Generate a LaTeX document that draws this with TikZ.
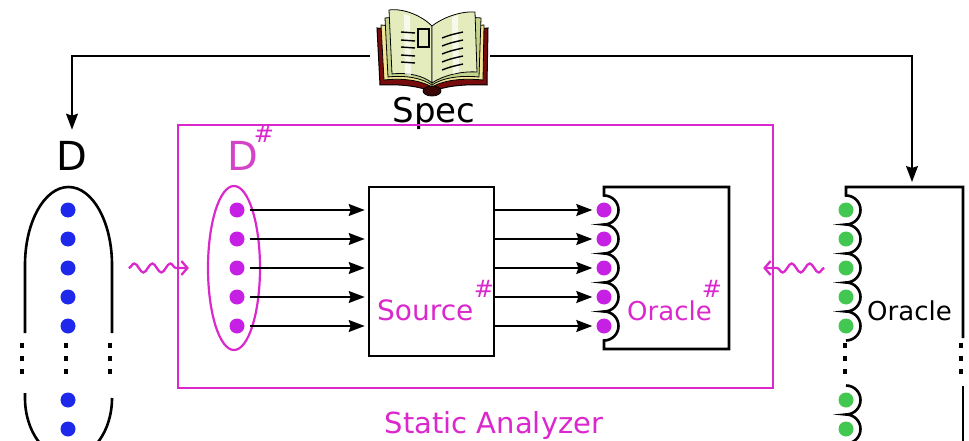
\documentclass[tikz,border=0pt]{standalone}
\usepackage{fontspec}
\setmainfont{DejaVu Sans}
\usetikzlibrary{arrows.meta, decorations.pathmorphing, shapes.geometric}
\definecolor{anapink}{RGB}{218,40,204}
\definecolor{dlabpink}{RGB}{212,68,200}
\definecolor{dotpurple}{RGB}{198,32,228}
\definecolor{dotblue}{RGB}{30,40,235}
\definecolor{dotgreen}{RGB}{66,200,80}
\definecolor{bookred}{RGB}{120,12,12}
\definecolor{bookyellow}{RGB}{240,228,150}
\definecolor{pagegreen}{RGB}{228,236,190}
\definecolor{pagedark}{RGB}{196,212,140}

\begin{document}
\begin{tikzpicture}[x=1pt, y=-1pt,
  flow/.style={-{Stealth[length=16pt,width=12pt,inset=2pt]}, line width=1.4pt},
  frame/.style={line width=2.6pt},
  dot/.style={circle, fill=#1, inner sep=0, minimum size=15pt},
  squig/.style={anapink, line width=2.3pt, decorate,
    decoration={snake, amplitude=4.5pt, segment length=18pt, post length=6pt},
    -{Straight Barb[length=6pt,width=14pt]}},
  gap/.style={line width=4.5pt, dash pattern=on 4.5pt off 8.5pt}
]
\useasboundingbox (0,0) rectangle (969,441);

% the spec book
\draw[fill=bookred, line width=1pt] (377,28) -- (380,85) .. controls (400,84) and (420,86) .. (432,92)
  .. controls (444,86) and (464,84) .. (487,85) -- (488,28) -- (432,34) -- cycle;
\draw[fill=bookyellow, line width=0.8pt] (381,25) -- (384,80) .. controls (402,78) and (420,80) .. (432,87)
  .. controls (444,80) and (462,78) .. (483,80) -- (484,25) -- (432,30) -- cycle;
\draw[fill=pagedark, line width=0.8pt] (385,18) -- (388,77) .. controls (405,75) and (422,78) .. (432,85)
  .. controls (442,78) and (460,75) .. (479,77) -- (481,18) .. controls (462,16) and (444,20) .. (432,28)
  .. controls (420,20) and (402,16) .. (385,18) -- cycle;
\draw[fill=pagegreen, line width=0.8pt] (389,10) -- (392,74) .. controls (408,72) and (424,76) .. (432,83)
  -- (432,26) .. controls (422,16) and (404,8) .. (389,10) -- cycle;
\draw[fill=pagegreen, line width=0.8pt] (475,12) -- (477,72) .. controls (460,71) and (442,76) .. (432,83)
  -- (432,26) .. controls (442,18) and (460,11) .. (475,12) -- cycle;
\fill[white, opacity=0.7] (404,14) -- (410,16) -- (411,76) -- (405,74) -- cycle;
\fill[white, opacity=0.7] (452,17) -- (458,15) -- (459,72) -- (453,74) -- cycle;
\foreach \y in {32,40,47,55,62}
  \draw[line width=1.4pt] (401,\y) -- (415,\y+1);
\draw[line width=1.1pt] (418,29) rectangle (429,47);
\foreach \y in {35,43,51,59,67}
  \draw[line width=1.4pt] (442,\y+3) .. controls (450,\y) .. (463,\y-3);
\draw[fill=bookred!50!black, line width=0.8pt] (432,91) ellipse[x radius=9pt, y radius=5pt];
\node[minimum width=120, minimum height=90] (book) at (430,56) {};
\node[anchor=base, font=\fontsize{34}{40}\selectfont] (spec) at (434,123) {Spec};

% analyzer frame
\node[draw=anapink, line width=2.2pt, minimum width=595, minimum height=263, inner sep=0] (ana) at (475.5,256.5) {};
\node[anchor=base, text=anapink, font=\fontsize{29}{34}\selectfont] (analab) at (494,433) {Static Analyzer};

% concrete D
\node[anchor=base, inner sep=0, font=\fontsize{40}{48}\selectfont] (dlab) at (72,171) {D};
\draw[frame] (25,333) -- (25,265) arc(180:0:43.5pt and 78pt) -- (112,333);
\draw[frame] (25,393) -- (25,398) arc(180:360:43.5pt and 60pt);
\foreach \x in {22,66,110}
  \draw[gap] (\x,343) -- (\x,375);
\foreach \y [count=\i] in {210,239,268,297,326,400,429}
  \node[dot=dotblue] (b\i) at (68,\y) {};

% abstract D
\node[anchor=base west, inner sep=0, text=dlabpink, font=\fontsize{40}{48}\selectfont] (dslab) at (227,170) {D};
\node[text=anapink, inner sep=0, font=\fontsize{24}{28}\selectfont] (dssharp) at (264,134) {\#};
\node[draw=anapink, line width=2.2pt, ellipse, minimum width=52, minimum height=164, inner sep=0] (dsh) at (234,268) {};
\foreach \y [count=\i] in {210,239,268,297,326}
  \node[dot=dotpurple] (p\i) at (237,\y) {};

% abstract source
\node[draw, frame, minimum width=125, minimum height=169, inner sep=0] (src) at (431.5,271.5) {};
\node[anchor=base west, inner sep=0, text=anapink, font=\fontsize{28}{32}\selectfont] (srclab) at (377,320) {Source};
\node[text=anapink, inner sep=0, font=\fontsize{24}{28}\selectfont] (srcsharp) at (484,289) {\#};

% abstract oracle
\draw[frame] (729,187) -- (604,187) -- (604,195.5)
  \foreach \k in {1,...,5}{ arc(90:-90:14.5pt) } -- (604,349) -- (729,349) -- cycle;
\foreach \y [count=\i] in {210,239,268,297,326}
  \node[dot=dotpurple] (o\i) at (604,\y) {};
\node[anchor=base west, inner sep=0, text=anapink, font=\fontsize{26}{30}\selectfont] (orclab) at (627,320) {Oracle};
\node[text=anapink, inner sep=0, font=\fontsize{24}{28}\selectfont] (orcsharp) at (712,289) {\#};

\foreach \i in {1,...,5} {
  \draw[flow, shorten <=5pt, shorten >=3pt] (p\i.east) -- (p\i -| src.west);
  \draw[flow, shorten >=4pt] (p\i -| src.east) -- (o\i.west);
}

% concrete oracle
\draw[frame] (963,338) -- (963,187) -- (846,187) -- (846,195.5)
  \foreach \k in {1,...,5}{ arc(90:-90:14.5pt) };
\draw[frame] (846,385.5) \foreach \k in {1,2}{ arc(90:-90:14.5pt) };
\draw[frame] (963,386) -- (963,450);
\foreach \x in {845,961}
  \draw[gap] (\x,343) -- (\x,375);
\foreach \y [count=\i] in {210,239,268,297,326,400,429}
  \node[dot=dotgreen] (g\i) at (846,\y) {};
\node[anchor=base west, inner sep=0, font=\fontsize{26}{30}\selectfont] (oclab) at (867,320) {Oracle};
\coordinate (otop) at (912,187);

% spec feeds both sides
\draw[flow] (book.west) -| ([yshift=12pt]dlab.north);
\draw[flow, shorten >=5pt] (book.east) -| (otop);

% abstraction links
\coordinate (rin) at (ana.east |- g3);
\draw[squig] ([xshift=53pt]b3.east) -- ([xshift=-18pt]dsh.west);
\draw[squig] ([xshift=-14pt]g3.west) -- ([xshift=-11pt]rin);
\end{tikzpicture}
\end{document}
